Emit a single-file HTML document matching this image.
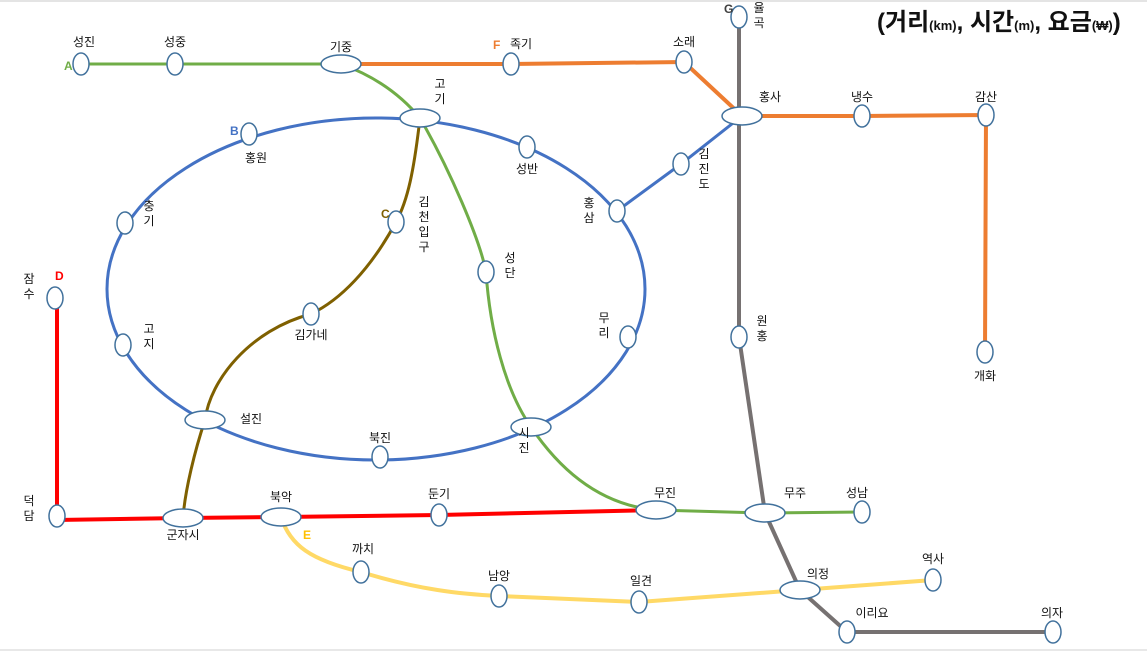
<!DOCTYPE html>
<html><head><meta charset="utf-8">
<style>
html,body{margin:0;padding:0;background:#fff;}
body{width:1147px;height:651px;overflow:hidden;font-family:"Liberation Sans","Noto Sans CJK KR",sans-serif;}
svg text{font-family:"Liberation Sans","Noto Sans CJK KR",sans-serif;}
</style></head>
<body>
<svg id="map" width="1147" height="651" viewBox="0 0 1147 651" xmlns="http://www.w3.org/2000/svg">
<rect x="0" y="0" width="1147" height="651" fill="#fff"/>
<line x1="0" y1="1" x2="1147" y2="1" stroke="#e4e4e4" stroke-width="2"/>
<line x1="0" y1="650" x2="1147" y2="650" stroke="#e8e8e8" stroke-width="2"/>
<g id="lines"></g>
<g id="stations"></g>
<g id="labels"></g>
<text x="877" y="30" font-size="24" font-weight="bold" fill="#111">(거리<tspan font-size="13">(km)</tspan>, 시간<tspan font-size="13">(m)</tspan>, 요금<tspan font-size="13">(₩)</tspan>)</text>
</svg>
<script>
const lineNames = ['A','F','G','C','D','E','B-link','A2'];
const lineColors = ['#70ad47','#ed7d31','#767171','#7f6000','#ff0000','#ffd966','#4472c4','#70ad47'];
const lineWidths = [3,4,4,3,4,4,3,3];
const linePaths = [
  'M81,64 L341,64',
  'M341,64 L511,64 L684,62 L742,116 L862,116 L986,115 L985,352',
  'M739,17 L739,337 L765,513 L800,590 L847,632 L1053,632',
  'M420,118 C414,170 408,200 396,222 C370,270 340,300 311,314 C250,330 210,380 205,420 C195,450 185,490 183,518',
  'M57,298 L57,520 L183,518 L281,517 L439,515 L656,510',
  'M281,517 C290,545 310,560 361,572 C420,590 460,594 499,596 L639,602 L800,590 L933,580',
  'M617,211 L681,164 L742,116',
  'M341,64 C380,78 405,100 420,118 C450,170 480,240 486,272 C490,330 505,390 531,427 C560,470 600,505 656,510 L765,513 L862,512'
];
const ringCenter = [376, 289];
const ringRadii = [269, 171];
const stNames = ['성진','성중','기중','족기','소래','율곡','홍사','냉수','감산','개화','고기','홍원','성반','충기','김천입구','홍삼','김진도','성단','잠수','고지','김가네','무리','원홍','설진','시진','북진','덕담','군자시','북악','둔기','무진','무주','성남','까치','남앙','일견','의정','역사','이리요','의자'];
const stX = [81,175,341,511,684,739,742,862,986,985,420,249,527,125,396,617,681,486,55,123,311,628,739,205,531,380,57,183,281,439,656,765,862,361,499,639,800,933,847,1053];
const stY = [64,64,64,64,62,17,116,116,115,352,118,134,147,223,222,211,164,272,298,345,314,337,337,420,427,457,516,518,517,515,510,513,512,572,596,602,590,580,632,632];
const stBig = [0,0,1,0,0,0,1,0,0,0,1,0,0,0,0,0,0,0,0,0,0,0,0,1,1,0,0,1,1,0,1,1,0,0,0,0,1,0,0,0];
const lbText = ['성진','성중','기중','족기','소래','율곡','홍사','냉수','감산','개화','고기','홍원','성반','충기','김천입구','홍삼','김진도','성단','잠수','고지','김가네','무리','원홍','설진','시진','북진','덕담','군자시','북악','둔기','무진','무주','성남','까치','남앙','일견','의정','역사','이리요','의자'];
const lbX = [84,175,341,521,684,759,770,862,986,985,440,256,527,149,424,589,704,510,29,149,311,604,762,251,524,380,29,183,281,439,665,795,857,363,499,641,818,933,872,1052];
const lbY = [46,46,51,48,46,12,101,101,101,380,88,162,173,210,206,207,158,262,283,333,339,322,325,423,437,442,505,539,501,498,497,497,497,553,580,585,578,563,617,617];
const lbVert = [0,0,0,0,0,1,0,0,0,0,1,0,0,1,1,1,1,1,1,1,0,1,1,0,1,0,1,0,0,0,0,0,0,0,0,0,0,0,0,0];
const tagText = ['A','F','G','B','C','D','E'];
const tagX = [64,493,724,230,381,55,303];
const tagY = [70,49,13,135,218,280,539];
const tagColor = ['#70ad47','#ed7d31','#404040','#4472c4','#7f6000','#ff0000','#ffc000'];

const NS='http://www.w3.org/2000/svg';
const gL=document.getElementById('lines'), gS=document.getElementById('stations'), gT=document.getElementById('labels');
function mk(tag){return document.createElementNS(NS,tag);}
const ring=mk('ellipse');


ring.setAttribute('cx',ringCenter[0]);ring.setAttribute('cy',ringCenter[1]);
ring.setAttribute('rx',ringRadii[0]);ring.setAttribute('ry',ringRadii[1]);
ring.setAttribute('fill','none');ring.setAttribute('stroke','#4472c4');ring.setAttribute('stroke-width','3');
gL.appendChild(ring);
for(let i=0;i<linePaths.length;i++){
  const p=mk('path');
  
  
  p.setAttribute('d',linePaths[i]);p.setAttribute('fill','none');
  p.setAttribute('stroke',lineColors[i]);p.setAttribute('stroke-width',lineWidths[i]);
  gL.appendChild(p);
}
for(let i=0;i<stNames.length;i++){
  const e=mk('ellipse');
  
  
  e.setAttribute('cx',stX[i]);e.setAttribute('cy',stY[i]);
  e.setAttribute('rx',stBig[i]?20:8);e.setAttribute('ry',stBig[i]?9:11);
  e.setAttribute('fill','#fff');e.setAttribute('stroke','#41719c');e.setAttribute('stroke-width','1.5');
  gS.appendChild(e);
}
for(let i=0;i<lbText.length;i++){
  const t=mk('text');
  
  
  t.setAttribute('font-size','12');t.setAttribute('fill','#111');
  t.setAttribute('x',lbX[i]);t.setAttribute('y',lbY[i]);t.setAttribute('text-anchor','middle');
  if(lbVert[i]){
    const chars=[...lbText[i]];
    chars.forEach((c,k)=>{const s=mk('tspan');s.setAttribute('x',lbX[i]);s.setAttribute('y',lbY[i]+k*15);s.textContent=c;t.appendChild(s);});
  } else {
    t.textContent=lbText[i];
  }
  gT.appendChild(t);
}
for(let i=0;i<tagText.length;i++){
  const t=mk('text');
  
  
  t.setAttribute('x',tagX[i]);t.setAttribute('y',tagY[i]);
  t.setAttribute('font-size','12');t.setAttribute('font-weight','bold');t.setAttribute('fill',tagColor[i]);
  t.textContent=tagText[i];
  gT.appendChild(t);
}
</script>
</body></html>
